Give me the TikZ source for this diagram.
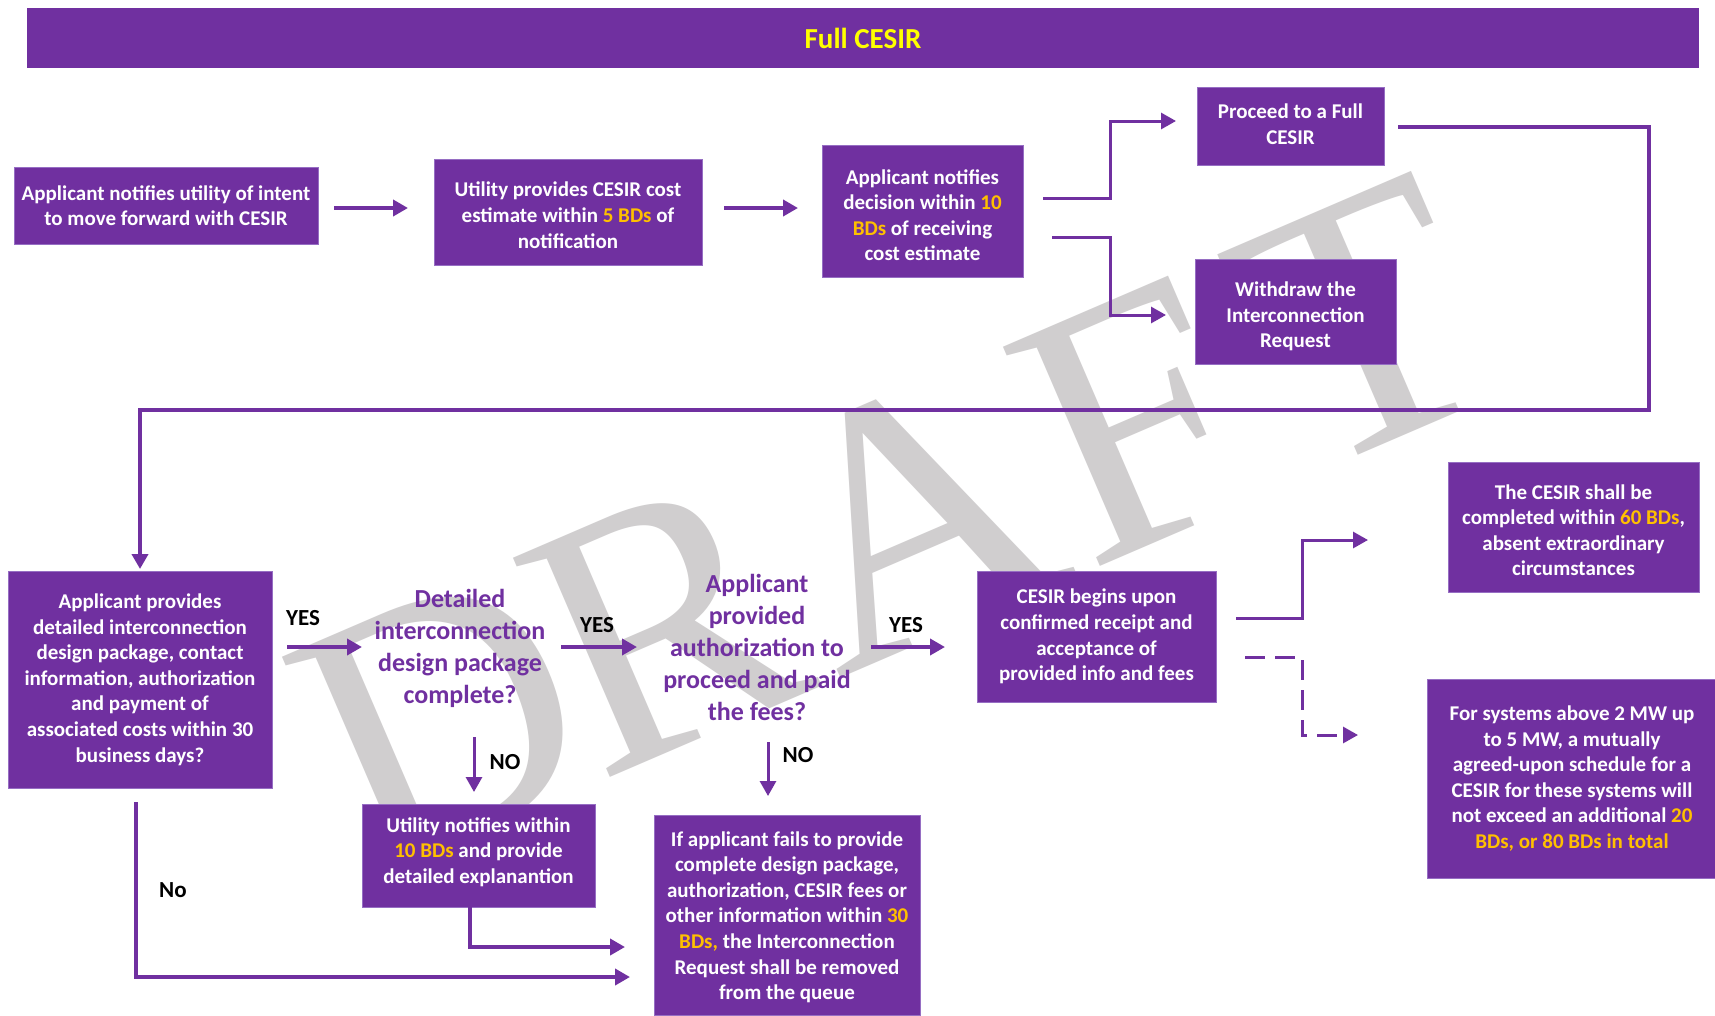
\documentclass[tikz,border=0pt]{standalone}
\usepackage{fontspec}
\setmainfont{Carlito}
\newfontfamily\wmfont{Liberation Serif}
\usetikzlibrary{arrows.meta}
\definecolor{pur}{RGB}{112,48,160}
\definecolor{gold}{RGB}{255,192,0}
\definecolor{ttl}{RGB}{255,255,0}
\definecolor{wm}{RGB}{208,206,207}
\definecolor{edgec}{RGB}{150,110,195}
\newcommand{\hlo}[1]{\textcolor{gold}{#1}}
\newcommand{\dn}[1]{\rule{0pt}{#1pt}}
\newcommand{\up}[1]{\rule[-#1pt]{0pt}{#1pt}}
\begin{document}
\begin{tikzpicture}[x=1pt,y=-1pt,
  box/.style={fill=pur, draw=edgec, line width=0.8pt, text=white,
    font=\fontsize{21}{25.6}\selectfont\bfseries, align=center, inner sep=0pt},
  dec/.style={text=pur, font=\fontsize{26}{32}\selectfont\bfseries, align=center,
    inner sep=0pt},
  lbl/.style={text=black, font=\fontsize{23}{26}\selectfont\bfseries, inner sep=0pt},
  wmk/.style={font=\wmfont\fontsize{366}{366}\selectfont, text=wm, rotate=23.3,
    anchor=base west, inner sep=0pt},
  tip/.style={-{Triangle[length=15pt,width=16pt]}},
  arr/.style={draw=pur, line width=4.5pt, tip},
  con/.style={draw=pur, line width=3pt, tip},
  dcon/.style={draw=pur, line width=3pt, tip, dash pattern=on 20pt off 10pt}
]
\useasboundingbox (0,0) rectangle (1715,1015);
\fill[white] (0,0) rectangle (1715,1015);
\clip (0,0) rectangle (1715,1015);

% watermark, letter by letter along the rotated baseline
\node[wmk] (wmD) at (367,882) {D};
\node[wmk] (wmR) at (598.4,782.3) {R};
\node[wmk] (wmA) at (837.2,679.5) {A};
\node[wmk] (wmF) at (1088,571.5) {F};
\node[wmk] (wmT) at (1306.5,477.4) {T};

% title
\node[fill=pur, minimum width=1672pt, minimum height=60pt, inner sep=0pt,
  text=ttl, font=\fontsize{29}{32}\selectfont\bfseries] (title) at (863,38) {Full CESIR};

% boxes
\node[box, minimum width=304pt, minimum height=77pt] (A) at (166,205.5)
  {Applicant notifies utility of intent\\to move forward with CESIR};
\node[box, minimum width=268pt, minimum height=106pt] (B) at (568,212)
  {\dn{21}Utility provides CESIR cost\\estimate within \hlo{5 BDs} of\\notification};
\node[box, minimum width=201pt, minimum height=132pt] (C) at (922.5,211)
  {\dn{23}Applicant notifies\\decision within \hlo{10}\\\hlo{BDs} of receiving\\cost estimate};
\node[box, minimum width=187pt, minimum height=78pt] (D) at (1290.5,126)
  {Proceed to a Full\\CESIR\up{4}};
\node[box, minimum width=201pt, minimum height=105pt] (E) at (1295.5,311.5)
  {\dn{25}Withdraw the\\Interconnection\\Request};
\node[box, minimum width=264pt, minimum height=217pt] (F) at (140,679.5)
  {Applicant provides\\detailed interconnection\\design package, contact\\information, authorization\\and payment of\\associated costs within 30\\business days?};
\node[dec] (G) at (460,648)
  {Detailed\\interconnection\\design package\\complete?};
\node[dec] (H) at (757,647.5)
  {Applicant\\provided\\authorization to\\proceed and paid\\the fees?};
\node[box, minimum width=239pt, minimum height=131pt] (I) at (1096.5,636.5)
  {CESIR begins upon\\confirmed receipt and\\acceptance of\\provided info and fees};
\node[box, minimum width=251pt, minimum height=130pt] (J) at (1573.5,527)
  {\dn{21}The CESIR shall be\\completed within \hlo{60 BDs},\\absent extraordinary\\circumstances};
\node[box, minimum width=290pt, minimum height=199pt] (K) at (1572,778.5)
  {For systems above 2 MW up\\to 5 MW, a mutually\\agreed-upon schedule for a\\CESIR for these systems will\\not exceed an additional \hlo{20}\\\hlo{BDs, or 80 BDs in total}};
\node[box, minimum width=233pt, minimum height=103pt] (L) at (478.5,855.5)
  {Utility notifies within\\\hlo{10 BDs} and provide\\detailed explanantion\up{10}};
\node[box, minimum width=266pt, minimum height=200pt] (M) at (787,915)
  {\dn{19}If applicant fails to provide\\complete design package,\\authorization, CESIR fees or\\other information within \hlo{30}\\\hlo{BDs,} the Interconnection\\Request shall be removed\\from the queue};

% labels
\node[lbl] (y1) at (303,618) {YES};
\node[lbl] (y2) at (597,625) {YES};
\node[lbl] (y3) at (906,625) {YES};
\node[lbl] (n1) at (505,762) {NO};
\node[lbl] (n2) at (798,755) {NO};
\node[lbl] (n3) at (173,890) {No};

% connector end points
\coordinate (ab1) at (334,208);   \coordinate (ab2) at (408,208);
\coordinate (bc1) at (724,208);   \coordinate (bc2) at (798,208);
\coordinate (cd1) at (1043,198);  \coordinate (cd2) at (1176,121);
\coordinate (ce1) at (1052,237);  \coordinate (ce2) at (1166,315);
\coordinate (df1) at (1398,127);  \coordinate (df2) at (140,569);
\coordinate (fg1) at (287,647);   \coordinate (fg2) at (362,647);
\coordinate (gh1) at (561,647);   \coordinate (gh2) at (637,647);
\coordinate (hi1) at (871,647);   \coordinate (hi2) at (945,647);
\coordinate (ij1) at (1236,618);  \coordinate (ij2) at (1368,540);
\coordinate (ik1) at (1245,657);  \coordinate (ik2) at (1358,735);
\coordinate (gl1) at (474,737);   \coordinate (gl2) at (474,792);
\coordinate (hm1) at (768,742);   \coordinate (hm2) at (768,796);
\coordinate (lm1) at (470,907);   \coordinate (lm2) at (625,947);
\coordinate (fm1) at (136,802);   \coordinate (fm2) at (630,977);

% connectors
\draw[arr] (ab1) -- (ab2);
\draw[arr] (bc1) -- (bc2);
\draw[con] (cd1) -- (1110,198) |- (cd2);
\draw[con] (ce1) -- (1110,237) |- (ce2);
\draw[arr] (df1) -- (1649,127) -- (1649,410) -- (140,410) -- (df2);
\draw[arr] (fg1) -- (fg2);
\draw[arr] (gh1) -- (gh2);
\draw[arr] (hi1) -- (hi2);
\draw[con] (ij1) -- (1302,618) |- (ij2);
\draw[dcon] (ik1) -- (1302,657) |- (ik2);
\draw[con] (gl1) -- (gl2);
\draw[con] (hm1) -- (hm2);
\draw[arr] (lm1) |- (lm2);
\draw[arr] (fm1) |- (fm2);
\end{tikzpicture}
\end{document}
